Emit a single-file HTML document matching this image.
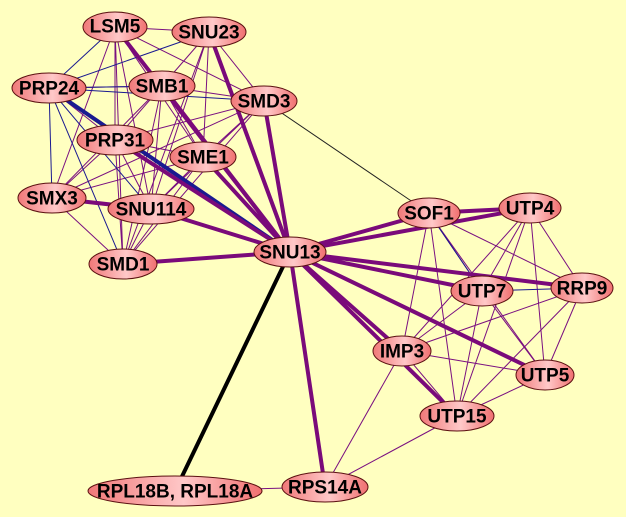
<!DOCTYPE html>
<html><head><meta charset="utf-8"><style>
html,body{margin:0;padding:0;background:#ffffc0;}
svg{display:block;}
text{font-family:"Liberation Sans",Arial,sans-serif;font-weight:bold;font-size:19px;fill:#000;text-anchor:middle;dominant-baseline:central;}
</style></head><body>
<svg width="626" height="517" viewBox="0 0 626 517" xmlns="http://www.w3.org/2000/svg">
<defs>
<linearGradient id="g" x1="0" x2="1" y1="0" y2="0">
<stop offset="0" stop-color="#f07878"/><stop offset="0.55" stop-color="#ffc8c8"/><stop offset="1" stop-color="#f07070"/>
</linearGradient>
</defs>
<rect width="626" height="517" fill="#ffffc0"/>
<g stroke="#7a1080" stroke-width="1" fill="none">
<path d="M115,27L209,32M115,27L162,86M115,27L115,140M115,27L203,157M115,27L151,209M115,27L123,264M115,27L264,101M115,27L52,198
M209,32L162,86M209,32L115,140M209,32L203,157M209,32L151,209M209,32L264,101M209,32L123,264
M162,86L264,101M162,86L115,140M162,86L203,157M162,86L151,209M162,86L52,198M162,86L123,264
M264,101L115,140M264,101L203,157M264,101L151,209M264,101L52,198M264,101L123,264
M115,140L203,157M115,140L151,209M115,140L52,198M115,140L123,264
M203,157L151,209M203,157L52,198M203,157L123,264
M52,198L123,264M151,209L123,264M49,88L115,140M49,88L162,86
M429,213L530,208M429,213L482,291M429,213L582,288M429,213L402,351M429,213L457,416M429,213L545,375
M530,208L482,291M530,208L582,288M530,208L402,351M530,208L545,375M530,208L457,416
M482,291L402,351M482,291L545,375M482,291L457,416M582,288L402,351M582,288L545,375M582,288L457,416
M402,351L545,375M402,351L457,416M545,375L457,416M457,416L325,487M402,351L325,487"/>
</g>
<g stroke="#1a1a90" stroke-width="1" fill="none">
<path d="M49,88L209,32M49,88L162,86M49,88L264,101M49,88L52,198M49,88L151,209M49,88L123,264M49,88L115,27M429,213L482,291M482,291L582,288"/>
</g>
<path d="M49,88L290,252" stroke="#1a1a90" stroke-width="4"/>
<path d="M264,101L429,213" stroke="#222" stroke-width="1"/>
<g stroke="#7a0a7a" stroke-width="4" fill="none">
<path d="M115,27L290,252M209,32L290,252M162,86L290,252M264,101L290,252M115,140L290,252M203,157L290,252M151,209L290,252M123,264L290,252M52,198L151,209M429,213L290,252M530,208L290,252M482,291L290,252M582,288L290,252M402,351L290,252M545,375L290,252M457,416L290,252M325,487L290,252M429,213L530,208"/>
</g>
<path d="M175,491L290,252" stroke="#000" stroke-width="4"/>
<path d="M175,491L325,487" stroke="#7a1080" stroke-width="1"/>
<g stroke="#5a1010" stroke-width="1" fill="url(#g)">
<ellipse cx="115" cy="27" rx="32" ry="15"/>
<ellipse cx="209" cy="32" rx="37" ry="15"/>
<ellipse cx="49" cy="88" rx="37" ry="15"/>
<ellipse cx="162" cy="86" rx="33" ry="15"/>
<ellipse cx="264" cy="101" rx="33" ry="15"/>
<ellipse cx="115" cy="140" rx="38" ry="15"/>
<ellipse cx="203" cy="157" rx="33" ry="15"/>
<ellipse cx="52" cy="198" rx="34" ry="15"/>
<ellipse cx="151" cy="209" rx="43" ry="15"/>
<ellipse cx="123" cy="264" rx="34" ry="15"/>
<ellipse cx="290" cy="252" rx="36" ry="15"/>
<ellipse cx="429" cy="213" rx="31" ry="15"/>
<ellipse cx="530" cy="208" rx="31" ry="15"/>
<ellipse cx="482" cy="291" rx="31" ry="15"/>
<ellipse cx="582" cy="288" rx="31" ry="15"/>
<ellipse cx="402" cy="351" rx="29" ry="15"/>
<ellipse cx="545" cy="375" rx="29" ry="15"/>
<ellipse cx="457" cy="416" rx="37" ry="15"/>
<ellipse cx="325" cy="487" rx="43" ry="15"/>
<ellipse cx="175" cy="491" rx="87" ry="15"/>
</g>
<text x="115" y="27">LSM5</text>
<text x="209" y="33">SNU23</text>
<text x="49" y="89">PRP24</text>
<text x="162" y="87">SMB1</text>
<text x="264" y="102">SMD3</text>
<text x="115" y="141">PRP31</text>
<text x="203" y="158">SME1</text>
<text x="52" y="199">SMX3</text>
<text x="151" y="210">SNU114</text>
<text x="123" y="265">SMD1</text>
<text x="290" y="253">SNU13</text>
<text x="429" y="214">SOF1</text>
<text x="530" y="209">UTP4</text>
<text x="482" y="292">UTP7</text>
<text x="582" y="289">RRP9</text>
<text x="402" y="352">IMP3</text>
<text x="545" y="376">UTP5</text>
<text x="457" y="417">UTP15</text>
<text x="325" y="488">RPS14A</text>
<text x="175" y="492">RPL18B, RPL18A</text>
</svg>
</body></html>
